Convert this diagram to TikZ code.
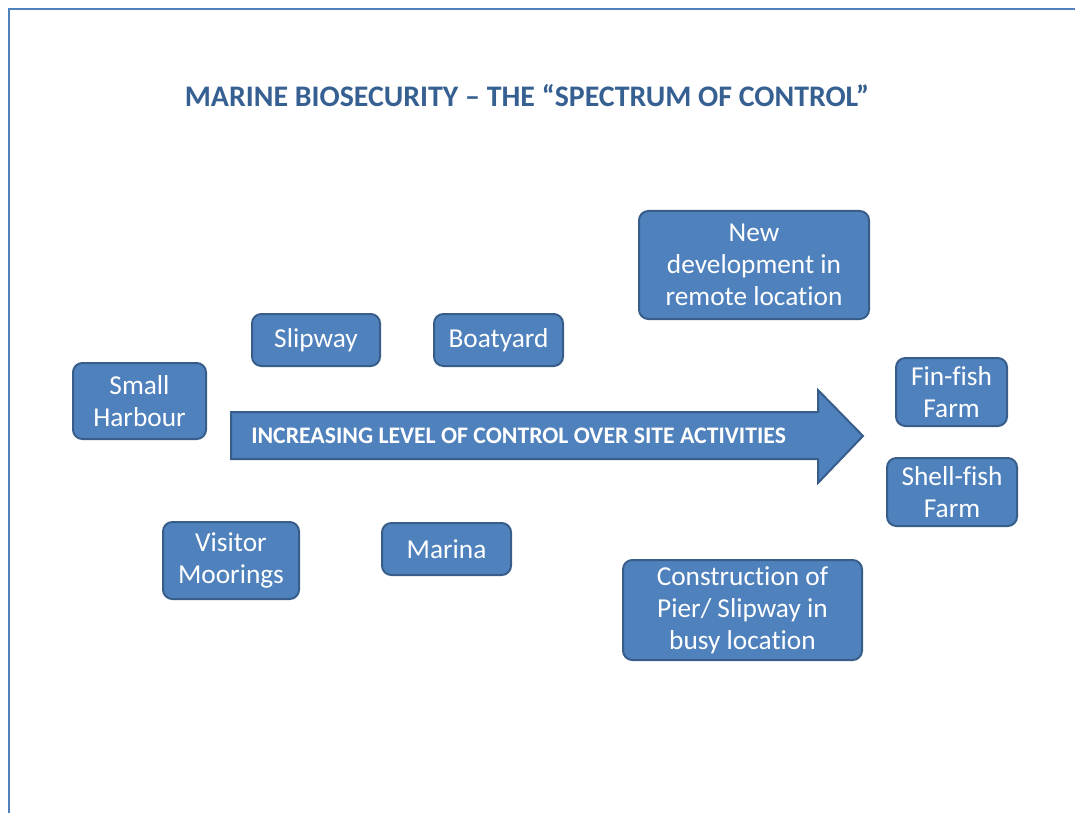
\documentclass[tikz,border=0pt]{standalone}
\usepackage{fontspec}
\setmainfont{Carlito}[Ligatures={TeX,NoCommon}]
\usepackage{tikz}
\definecolor{siteblue}{HTML}{4F81BD}
\definecolor{siteedge}{HTML}{385D8A}
\definecolor{titleblue}{HTML}{376092}

\begin{document}
\begin{tikzpicture}[x=0.75pt,y=-0.75pt,
    every node/.style={inner sep=0pt},
    site/.style={rectangle,rounded corners=7pt,fill=siteblue,draw=siteedge,
      line width=1.5pt,text=white,align=center,font=\fontsize{20.5}{24}\selectfont},
    frame/.style={draw=siteblue,line width=1.5pt}]
        \useasboundingbox (0,0) rectangle (1075,813);
        \draw[frame] (9,813) -- (9,9) -- (1075,9);

        \node[text=titleblue,font=\bfseries\fontsize{22.4}{26}\selectfont] (title) at (527,96)
          {MARINE BIOSECURITY -- THE ``SPECTRUM OF CONTROL''};

        % the spectrum arrow
        \draw[fill=siteblue,draw=siteedge,line width=1.5pt]
          (231,412) -- (818,412) -- (818,390) -- (863,436) -- (818,483)
          -- (818,459) -- (231,459) -- cycle;
        \node[anchor=west,text=white,font=\bfseries\fontsize{17.8}{20}\selectfont] (spectrum) at (251,436)
          {INCREASING LEVEL OF CONTROL OVER SITE ACTIVITIES};

        % sites, low control on the left
        \node[site,minimum width=133*0.75pt,minimum height=76*0.75pt] (harbour) at (139.5,401) {Small\\Harbour};
        \node[site,minimum width=128*0.75pt,minimum height=52*0.75pt] (slipway) at (316,340) {Slipway};
        \node[site,minimum width=129*0.75pt,minimum height=52*0.75pt] (boatyard) at (498.5,340) {Boatyard};
        \node[site,minimum width=136*0.75pt,minimum height=77*0.75pt] (moorings) at (231,560.5) {Visitor\\Moorings};
        \node[site,minimum width=129*0.75pt,minimum height=52*0.75pt] (marina) at (446.5,549) {Marina};
        \node[site,minimum width=230*0.75pt,minimum height=108*0.75pt] (newdev) at (754,265)
          {New\\development in\\remote location};
        \node[site,minimum width=239*0.75pt,minimum height=100*0.75pt] (pier) at (742.5,610)
          {Construction of\\Pier/ Slipway in\\busy location};
        \node[site,minimum width=111*0.75pt,minimum height=68*0.75pt] (finfish) at (951.5,392) {Fin-fish\\Farm};
        \node[site,minimum width=130*0.75pt,minimum height=68*0.75pt] (shellfish) at (952,492) {Shell-fish\\Farm};
\end{tikzpicture}
\end{document}
